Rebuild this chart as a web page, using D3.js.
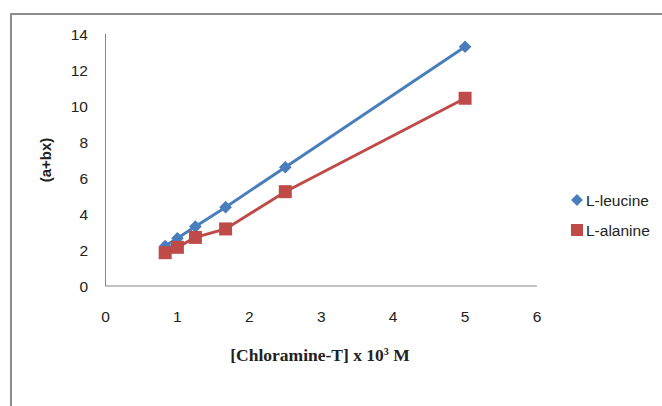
<!DOCTYPE html>
<html>
<head>
<meta charset="utf-8">
<script src="https://cdn.jsdelivr.net/npm/d3@7"></script>
<style>
  body { margin: 0; background: #fff; }
  text { font-family: "Liberation Sans", Arial, sans-serif; }
</style>
</head>
<body>
<div id="chart"></div>
<script>
var w = 662,
  h = 406;

// data
var conc = [0.83, 1.0, 1.25, 1.67, 2.5, 5.0];
var leucine = [2.22, 2.65, 3.3, 4.38, 6.6, 13.29];
var alanine = [1.85, 2.15, 2.7, 3.17, 5.24, 10.43];
var seriesNames = ["L-leucine", "L-alanine"];
var xTicks = [0, 1, 2, 3, 4, 5, 6];
var yTicks = [0, 2, 4, 6, 8, 10, 12, 14];

var blue = "#4a7ebb", red = "#be4b48";

var svg = d3.select("#chart").append("svg").attr("width", w).attr("height", h);

// outer frame of the chart area
svg.append("path").attr("d", "M 11 " + (h + 5) + " V 14 H " + (w + 5))
  .style("fill", "none").style("stroke", "#8c8c8c").style("stroke-width", 2);

var x = d3.scaleLinear().domain([0, 6]).range([105.5, 537]);
var y = d3.scaleLinear().domain([0, 14]).range([286, 34]);

// axes lines
svg.append("line").attr("x1", x(0)).attr("x2", x(0)).attr("y1", y(14)).attr("y2", y(0))
  .style("stroke", "#868686").style("stroke-width", 1);
svg.append("line").attr("x1", x(0)).attr("x2", x(6)).attr("y1", y(0)).attr("y2", y(0))
  .style("stroke", "#868686").style("stroke-width", 1);

// tick labels
svg.selectAll(".ylab").data(yTicks).enter().append("text")
  .attr("class", "ylab")
  .attr("x", 88).attr("y", function (d) { return y(d) + 5.5; })
  .attr("text-anchor", "end").style("font-size", "15.5px").style("fill", "#222")
  .text(function (d) { return d; });

svg.selectAll(".xlab").data(xTicks).enter().append("text")
  .attr("class", "xlab")
  .attr("x", function (d) { return x(d); }).attr("y", 322)
  .attr("text-anchor", "middle").style("font-size", "15.5px").style("fill", "#222")
  .text(function (d) { return d; });

// axis titles
svg.append("text").attr("transform", "translate(51,160) rotate(-90)")
  .attr("text-anchor", "middle").style("font-size", "15px").style("font-weight", "bold")
  .style("fill", "#222").text("(a+bx)");

var xt = svg.append("text").attr("x", 320).attr("y", 361).attr("text-anchor", "middle")
  .style("font-family", "'Liberation Serif', 'Times New Roman', serif")
  .style("font-size", "17.5px").style("font-weight", "bold").style("fill", "#222");
xt.append("tspan").text("[Chloramine-T] x 10");
xt.append("tspan").attr("dy", -6).style("font-size", "10px").text("3");
xt.append("tspan").attr("dy", 6).text(" M");

var line = d3.line()
  .x(function (d) { return x(d[0]); })
  .y(function (d) { return y(d[1]); });

// diamond = square turned 45 degrees
function marker(shape, size) {
  return d3.symbol().type(d3.symbolSquare).size(size)();
}

function drawSeries(vals, color, shape, size) {
  var pts = conc.map(function (c, i) { return [c, vals[i]]; });
  svg.append("path").datum(pts).attr("d", line)
    .style("fill", "none").style("stroke", color).style("stroke-width", 3);
  svg.selectAll(null).data(pts).enter().append("path")
    .attr("transform", function (d) {
      return "translate(" + x(d[0]) + "," + y(d[1]) + ")" + (shape == "diamond" ? " rotate(45)" : "");
    })
    .attr("d", marker(shape, size))
    .style("fill", color);
}

drawSeries(leucine, blue, "diamond", 80);
drawSeries(alanine, red, "square", 169);

// legend
var legend = [
  { name: seriesNames[0], color: blue, shape: "diamond", size: 70, y: 200 },
  { name: seriesNames[1], color: red, shape: "square", size: 144, y: 230 }
];
var lg = svg.selectAll(".lg").data(legend).enter().append("g")
  .attr("transform", function (d) { return "translate(577," + d.y + ")"; });
lg.append("path").attr("d", function (d) { return marker(d.shape, d.size); })
  .attr("transform", function (d) { return d.shape == "diamond" ? "rotate(45)" : null; })
  .style("fill", function (d) { return d.color; });
lg.append("text").attr("x", 9).attr("y", 5.5).style("font-size", "15.5px").style("fill", "#222")
  .text(function (d) { return d.name; });
</script>
</body>
</html>
